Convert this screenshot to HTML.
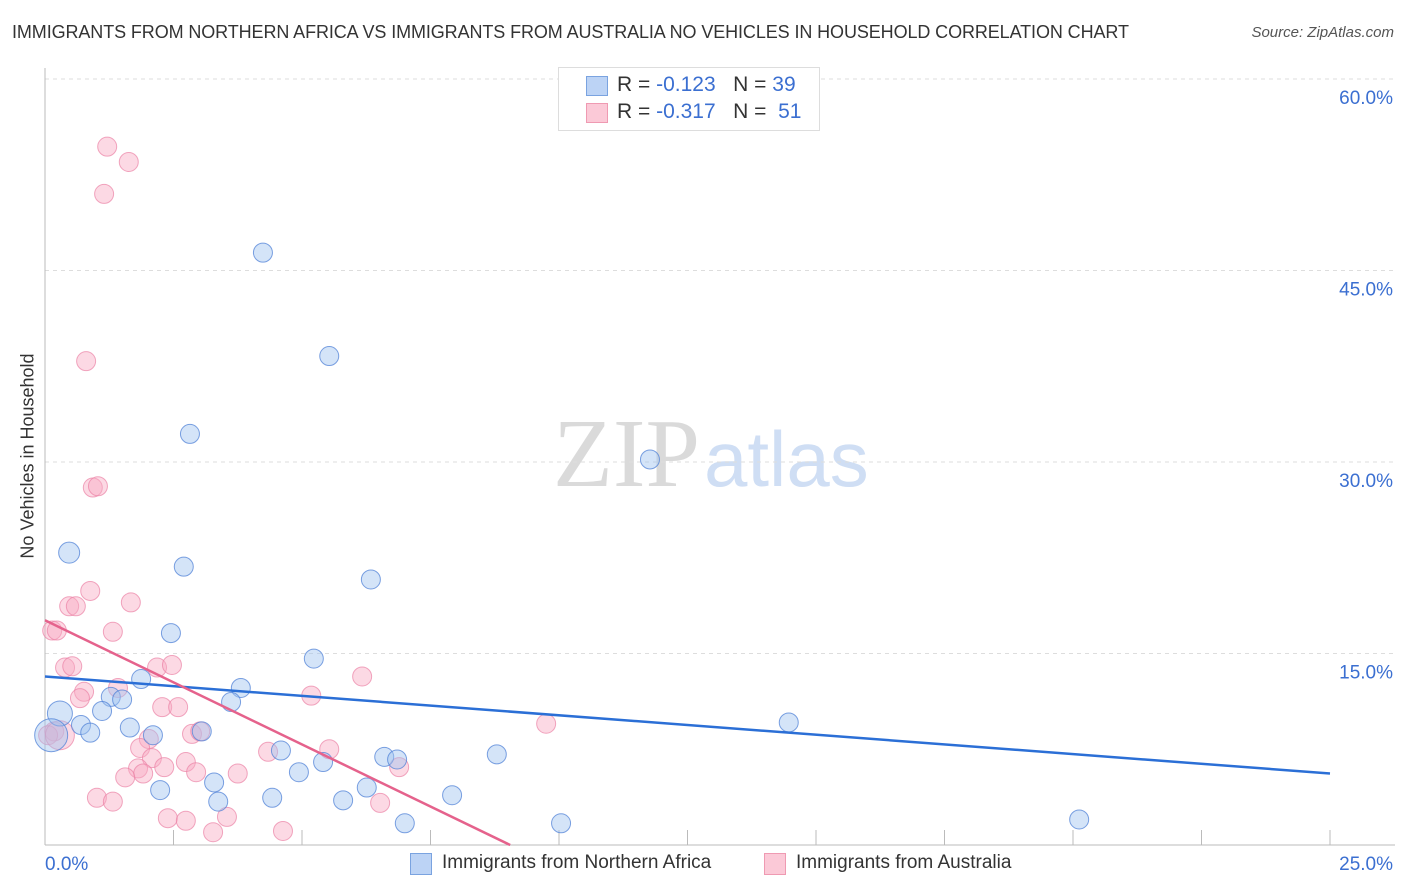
<!DOCTYPE html>
<html><head><meta charset="utf-8">
<style>
body{margin:0;background:#fff;font-family:"Liberation Sans",sans-serif;}
#wrap{position:relative;width:1406px;height:892px;overflow:hidden;}
.t{position:absolute;white-space:nowrap;}
</style></head>
<body>
<div id="wrap">
<div class="t" style="left:12px;top:22px;font-size:18px;color:#333;letter-spacing:-0.1px;">IMMIGRANTS FROM NORTHERN AFRICA VS IMMIGRANTS FROM AUSTRALIA NO VEHICLES IN HOUSEHOLD CORRELATION CHART</div>
<div class="t" style="right:12px;top:24px;font-size:15px;color:#555;font-style:italic;">Source: ZipAtlas.com</div>
<div class="t" style="left:28px;top:456px;font-size:18px;color:#333;transform:translate(-50%,-50%) rotate(-90deg);">No Vehicles in Household</div>
<div class="t" style="left:553px;top:398px;font-size:98px;font-family:'Liberation Serif',serif;color:#dadada;">ZIP<span style="font-family:'Liberation Sans',sans-serif;color:#cfdef4;font-size:78px;margin-left:4px;">atlas</span></div>
<svg id="plot" width="1406" height="892" style="position:absolute;left:0;top:0"></svg>
<div style="position:absolute;left:558px;top:67px;width:260px;height:62px;border:1px solid #ddd;background:#fff;">
 <div style="position:absolute;left:27px;top:8px;width:20px;height:18px;background:#bcd3f5;border:1px solid #7aa3e0;"></div>
 <div class="t" style="left:58px;top:5px;font-size:21px;color:#333;">R = <span style="color:#3b6fd1">-0.123</span>&nbsp;&nbsp;&nbsp;N = <span style="color:#3b6fd1">39</span></div>
 <div style="position:absolute;left:27px;top:35px;width:20px;height:18px;background:#fbc9d7;border:1px solid #ef9ab2;"></div>
 <div class="t" style="left:58px;top:32px;font-size:21px;color:#333;">R = <span style="color:#3b6fd1">-0.317</span>&nbsp;&nbsp;&nbsp;N = &nbsp;<span style="color:#3b6fd1">51</span></div>
</div>
<div>
 <div style="position:absolute;left:410px;top:853px;width:20px;height:20px;background:#bcd3f5;border:1px solid #7aa3e0;"></div>
 <div class="t" style="left:442px;top:852px;font-size:19px;color:#333;">Immigrants from Northern Africa</div>
</div>
<div>
 <div style="position:absolute;left:764px;top:853px;width:20px;height:20px;background:#fbc9d7;border:1px solid #ef9ab2;"></div>
 <div class="t" style="left:796px;top:852px;font-size:19px;color:#333;">Immigrants from Australia</div>
</div>
</div>
<script>
const yTicks=[15,30,45,60];
const yTickLabels=["15.0%","30.0%","45.0%","60.0%"];
const xTickLabels=["0.0%","25.0%"];
const blueX=[4.24,5.53,2.82,11.77,0.47,2.70,6.34,2.45,5.23,1.87,3.81,3.62,1.28,1.50,0.29,1.11,0.70,0.88,1.65,3.05,2.10,0.12,14.47,4.59,6.60,6.85,8.79,5.41,4.94,3.29,6.26,2.24,3.37,4.42,5.80,7.92,7.00,10.04,20.12];
const blueY=[46.4,38.3,32.2,30.2,22.9,21.8,20.8,16.6,14.6,13.0,12.3,11.2,11.6,11.4,10.3,10.5,9.4,8.8,9.2,8.9,8.6,8.6,9.6,7.4,6.9,6.7,7.1,6.5,5.7,4.9,4.5,4.3,3.4,3.7,3.5,3.9,1.7,1.7,2.0];
const blueR=[9,9,9,9,10,9,9,9,9,9,9,9,9,9,12,9,9,9,9,9,9,16,9,9,9,9,9,9,9,9,9,9,9,9,9,9,9,9,9];
const pinkX=[1.21,1.63,1.15,0.80,0.93,1.03,0.88,0.47,0.60,1.67,0.14,0.23,1.32,0.39,0.53,2.18,2.47,6.17,5.18,1.42,0.76,0.68,2.28,2.59,9.75,2.86,3.02,0.18,0.06,2.02,1.85,2.08,5.53,4.34,1.81,2.32,2.74,2.94,1.91,1.56,3.75,6.89,1.01,1.32,6.52,2.39,2.74,3.54,3.27,4.63,0.29];
const pinkY=[54.7,53.5,51.0,37.9,28.0,28.1,19.9,18.7,18.7,19.0,16.8,16.8,16.7,13.9,14.0,13.9,14.1,13.2,11.7,12.3,12.0,11.5,10.8,10.8,9.5,8.7,8.9,8.9,8.6,8.3,7.6,6.8,7.5,7.3,6.0,6.1,6.5,5.7,5.6,5.3,5.6,6.1,3.7,3.4,3.3,2.1,1.9,2.2,1.0,1.1,8.6];
const pinkR=[9,9,9,9,9,9,9,9,9,9,9,9,9,9,9,9,9,9,9,9,9,9,9,9,9,9,9,9,9,9,9,9,9,9,9,9,9,9,9,9,9,9,9,9,9,9,9,9,9,9,14];
const blueTrend=[13.2,5.6];
const pinkTrend=[17.6,0];
const pinkTrendEndX=9.05;
const X0=45,X1=1330,Y0=845,YTOP=79;
function sx(v){return X0+v/25*(X1-X0);}
function sy(v){return Y0-v/60*(Y0-YTOP);}
const svg=document.getElementById('plot');
const NS='http://www.w3.org/2000/svg';
function mk(t,a){const e=document.createElementNS(NS,t);for(const k in a)e.setAttribute(k,a[k]);svg.appendChild(e);return e;}
yTicks.forEach((v,i)=>{
 const g=mk('line',{x1:X0,x2:1395,y1:sy(v),y2:sy(v),stroke:'#ddd','stroke-dasharray':'4,4'});
 
 
 const t=mk('text',{x:1393,y:sy(v)+25,'text-anchor':'end','font-size':19,fill:'#3b6fd1','font-family':'Liberation Sans'});
 t.textContent=yTickLabels[i];
 
 
});
const ax=mk('line',{x1:X0,x2:X0,y1:68,y2:Y0,stroke:'#bbb'});


const bx=mk('line',{x1:X0,x2:1395,y1:Y0,y2:Y0,stroke:'#bbb'});


for(let i=1;i<=10;i++){
 const tk=mk('line',{x1:sx(i*2.5),x2:sx(i*2.5),y1:Y0-15,y2:Y0,stroke:'#bbb'});
 
 
}
[[0,45,'start'],[25,1393,'end']].forEach((d,i)=>{
 const t=mk('text',{x:d[1],y:870,'text-anchor':d[2],'font-size':19,fill:'#3b6fd1','font-family':'Liberation Sans'});
 t.textContent=xTickLabels[i];
 
 
});
pinkX.forEach((x,i)=>{
 const c=mk('circle',{cx:sx(x),cy:sy(pinkY[i]),r:pinkR[i]+0.5,fill:'rgba(248,170,195,0.45)',stroke:'rgba(235,130,165,0.7)','stroke-width':1});
 
 
});
blueX.forEach((x,i)=>{
 const c=mk('circle',{cx:sx(x),cy:sy(blueY[i]),r:blueR[i]+0.5,fill:'rgba(160,195,240,0.45)',stroke:'rgba(80,130,215,0.75)','stroke-width':1});
 
 
});
const bl=mk('line',{x1:sx(0),y1:sy(blueTrend[0]),x2:sx(25),y2:sy(blueTrend[1]),stroke:'#2b6fd6','stroke-width':2.5});


const pl=mk('line',{x1:sx(0),y1:sy(pinkTrend[0]),x2:sx(pinkTrendEndX),y2:sy(pinkTrend[1]),stroke:'#e5628c','stroke-width':2.5});


</script>
</body></html>
